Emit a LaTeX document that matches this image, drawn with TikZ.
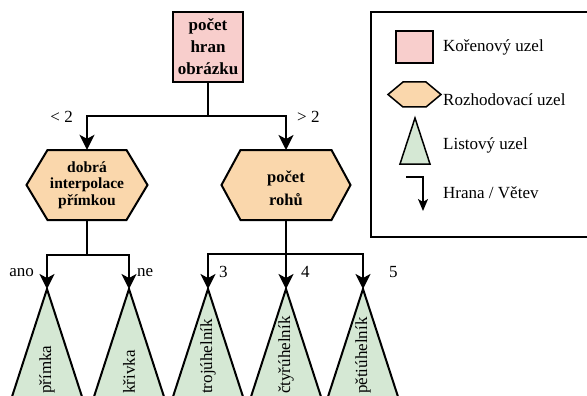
\documentclass[tikz,border=0pt]{standalone}
\usepackage{fontspec}
\setmainfont{Liberation Serif}
\usetikzlibrary{arrows.meta}
\definecolor{rootfill}{HTML}{F8CECC}
\definecolor{hexfill}{HTML}{FAD7AC}
\definecolor{leaffill}{HTML}{D5E8D4}
\tikzset{
  edge/.style={line width=2pt, -{Stealth[length=15pt,width=15pt,inset=4pt]}},
  plainedge/.style={line width=2pt},
  rootbox/.style={draw, line width=2pt, fill=rootfill, minimum width=70pt, minimum height=70pt, inner sep=0pt, align=center, font=\bfseries\fontsize{17}{22}\selectfont},
  hexshape/.style={draw, line width=2pt, fill=hexfill, line join=miter},
  hexnode/.style={inner sep=0pt, align=center, minimum height=70pt},
  leafshape/.style={draw, line width=2pt, fill=leaffill, line join=miter},
  leaftext/.style={rotate=90, anchor=west, inner sep=0pt, font=\fontsize{17}{20}\selectfont},
  lbl/.style={inner sep=0pt, font=\fontsize{17}{20}\selectfont},
  legtext/.style={anchor=west, inner sep=0pt, font=\fontsize{17}{20}\selectfont},
}
\begin{document}
\begin{tikzpicture}[x=1pt,y=-1pt]
\useasboundingbox (0,0) rectangle (587,396);
% root
\node[rootbox] (root) at (208,47) {počet\\hran\\obrázku};
% hexagons
\draw[hexshape] (87,185) ++(-60.5,0) -- ++(21,-35) -- ++(79,0) -- ++(21,35) -- ++(-21,35) -- ++(-79,0) -- cycle;
\node[hexnode, minimum width=121pt, font=\bfseries\fontsize{15.5}{16.5}\selectfont] (hexL) at (87,185) {dobrá\\interpolace\\přímkou};
\draw[hexshape] (286,185) ++(-64.5,0) -- ++(19,-35) -- ++(91,0) -- ++(19,35) -- ++(-19,35) -- ++(-91,0) -- cycle;
\node[hexnode, minimum width=129pt, font=\bfseries\fontsize{16.5}{23}\selectfont] (hexR) at (286,188) {počet\\rohů};
% leaves
\coordinate (leafA) at (47,289);
\coordinate (leafB) at (129,289);
\coordinate (leafC) at (208,289);
\coordinate (leafD) at (286,289);
\coordinate (leafE) at (363,289);
\foreach \c in {leafA,leafB,leafC,leafD,leafE}{
  \draw[leafshape] (\c) -- ++(-52,160) -- ++(104,0) -- cycle;
}
\node[leaftext] (tA) at (47,394) {přímka};
\node[leaftext] (tB) at (129,394) {křivka};
\node[leaftext] (tC) at (208,394) {trojúhelník};
\node[leaftext] (tD) at (286,394) {čtyřúhelník};
\node[leaftext] (tE) at (363,394) {pětiúhelník};
% edges
\coordinate (j1) at (208,116);
\draw[plainedge] (root.south) -- (j1);
\draw[edge] (j1) -| (hexL.north);
\draw[edge] (j1) -| (hexR.north |- 0,150);
\coordinate (j2) at (87,255);
\draw[plainedge] (hexL.south) -- (j2);
\draw[edge] (j2) -| (leafA);
\draw[edge] (j2) -| (leafB);
\coordinate (j3) at (286,254);
\coordinate (hexRb) at (286,220);
\draw[edge] (hexRb) -- (leafD);
\draw[edge] (j3) -| (leafC);
\draw[edge] (j3) -| (leafE);
% labels
\node[lbl, anchor=east] (l1) at (73,117) {< 2};
\node[lbl, anchor=west] (l2) at (297,117) {> 2};
\node[lbl, anchor=east] (l3) at (34,273) {ano};
\node[lbl, anchor=west] (l4) at (137,273) {ne};
\node[lbl, anchor=west] (l5) at (219,272) {3};
\node[lbl, anchor=west] (l6) at (301,272) {4};
\node[lbl, anchor=west] (l7) at (389,272) {5};
% legend
\draw[line width=2pt] (371,12) rectangle (600,237);
\draw[line width=1.5pt, fill=rootfill] (396,31) rectangle (433,63);
\node[legtext] (g1) at (443,47) {Kořenový uzel};
\draw[line width=1.5pt, fill=hexfill] (388,94.5) -- (403,82) -- (426,82) -- (441,94.5) -- (426,107) -- (403,107) -- cycle;
\node[legtext] (g2) at (443,100) {Rozhodovací uzel};
\draw[line width=1.5pt, fill=leaffill] (415,118) -- (430,164) -- (400,164) -- cycle;
\node[legtext] (g3) at (443,145) {Listový uzel};
\coordinate (a1) at (406,177);
\coordinate (a2) at (423,211);
\draw[line width=1.5pt, -{Stealth[length=12pt,width=10pt,inset=3pt]}] (a1) -| (a2);
\node[legtext] (g4) at (443,193) {Hrana / Větev};
\end{tikzpicture}
\end{document}
